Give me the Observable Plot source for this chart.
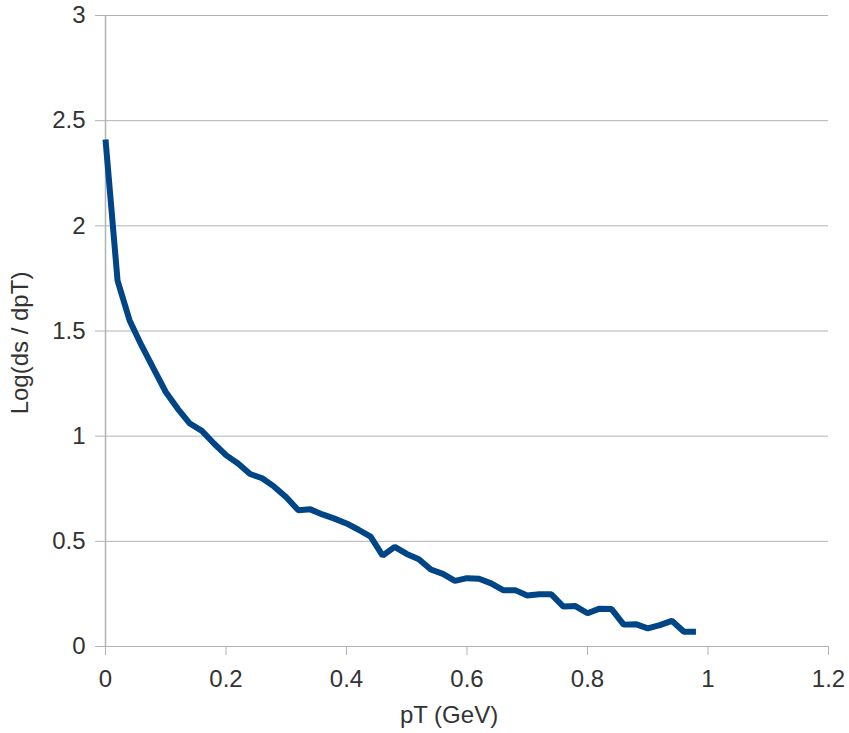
<!DOCTYPE html>
<html>
<head>
<meta charset="utf-8">
<script src="https://cdn.jsdelivr.net/npm/d3@7"></script>
<script src="https://cdn.jsdelivr.net/npm/@observablehq/plot@0.6"></script>
<style>
  html, body { margin: 0; padding: 0; background: #fff; }
  #chart { width: 849px; height: 733px; }
</style>
</head>
<body>
<div id="chart"></div>
<script>
// Transverse momentum bins (GeV)
const pT = [
  0.00, 0.02, 0.04, 0.06, 0.08, 0.10, 0.12, 0.14, 0.16, 0.18,
  0.20, 0.22, 0.24, 0.26, 0.28, 0.30, 0.32, 0.34, 0.36, 0.38,
  0.40, 0.42, 0.44, 0.46, 0.48, 0.50, 0.52, 0.54, 0.56, 0.58,
  0.60, 0.62, 0.64, 0.66, 0.68, 0.70, 0.72, 0.74, 0.76, 0.78,
  0.80, 0.82, 0.84, 0.86, 0.88, 0.90, 0.92, 0.94, 0.96, 0.98
];
// Log of the differential cross-section in each bin
const logDsDpT = [
  2.41, 1.74, 1.55, 1.43, 1.32, 1.21, 1.13, 1.06, 1.025, 0.965,
  0.91, 0.87, 0.82, 0.80, 0.76, 0.71, 0.648, 0.652, 0.628, 0.608,
  0.585, 0.555, 0.522, 0.432, 0.474, 0.44, 0.415, 0.366, 0.345, 0.312,
  0.325, 0.322, 0.300, 0.268, 0.268, 0.242, 0.248, 0.248, 0.190, 0.192,
  0.158, 0.180, 0.178, 0.104, 0.106, 0.086, 0.102, 0.122, 0.070, 0.070
];
const xTicks = [0, 0.2, 0.4, 0.6, 0.8, 1, 1.2];
const yTicks = [0, 0.5, 1, 1.5, 2, 2.5, 3];

const data = pT.map((x, i) => ({x, y: logDsDpT[i]}));

const gridColor = "#b3b3b3";
const textColor = "#333333";
const font = "'Liberation Sans', Arial, sans-serif";
const fs = 24;

const chart = Plot.plot({
  width: 849,
  height: 733,
  marginLeft: 105,
  marginRight: 21,
  marginTop: 15,
  marginBottom: 87,
  style: {fontFamily: font, fontSize: fs + "px", color: textColor, background: "#fff"},
  x: {domain: [0, 1.2]},
  y: {domain: [0, 3]},
  marks: [
    Plot.ruleY(yTicks.filter(d => d > 0), {stroke: gridColor, strokeWidth: 1}),
    Plot.ruleY([0], {stroke: gridColor, strokeWidth: 1}),
    Plot.ruleX([0], {stroke: gridColor, strokeWidth: 1.5}),
    Plot.axisY({
      ticks: yTicks, tickSize: 10, tickPadding: 10, stroke: gridColor,
      tickFormat: d => String(d), label: null, fill: textColor, fontSize: fs
    }),
    Plot.axisX({
      ticks: xTicks, tickSize: 9, tickPadding: 14, stroke: gridColor,
      tickFormat: d => String(d), label: null, fill: textColor, fontSize: fs
    }),
    Plot.text(["pT (GeV)"], {
      frameAnchor: "bottom", textAnchor: "middle", dx: -18, dy: 76,
      fill: textColor, fontSize: fs
    }),
    Plot.text(["Log(ds / dpT)"], {
      frameAnchor: "left", textAnchor: "middle", dx: -85, dy: 12,
      rotate: -90, fill: textColor, fontSize: fs
    }),
    Plot.line(data, {
      x: "x", y: "y", stroke: "#004586", strokeWidth: 6,
      strokeLinejoin: "miter", strokeLinecap: "butt"
    })
  ]
});
document.getElementById("chart").append(chart);
</script>
</body>
</html>
